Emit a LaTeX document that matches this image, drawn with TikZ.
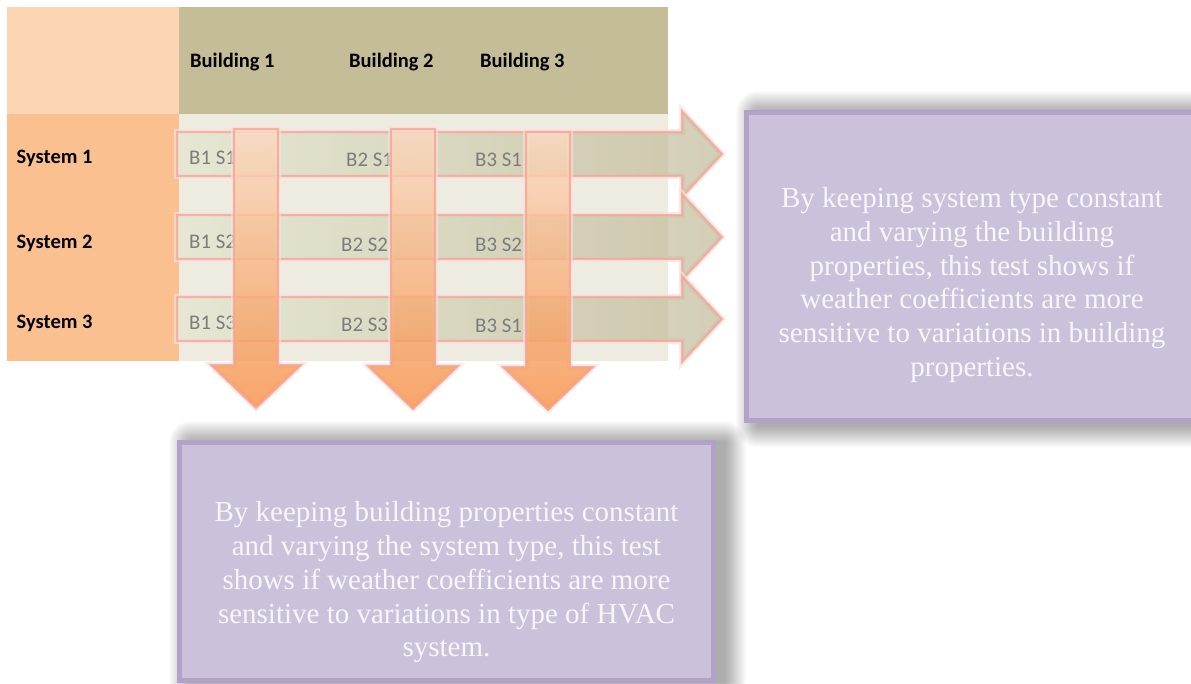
\documentclass[tikz,border=0pt]{standalone}
\usepackage{fontspec}
\setmainfont{Liberation Serif}
\newfontfamily\calibri{Carlito}

\definecolor{cornerpeach}{HTML}{FCD5B5}
\definecolor{headtan}{HTML}{C4BD97}
\definecolor{rowpeach}{HTML}{FAC090}
\definecolor{bodycream}{HTML}{EEECE1}
\definecolor{celltext}{HTML}{7C7C7C}
\definecolor{bandleft}{HTML}{E0E5CB}
\definecolor{bandright}{HTML}{B7AE88}
\definecolor{droptop}{HTML}{FCDAC2}
\definecolor{dropbottom}{HTML}{F68C3F}
\definecolor{arrowedge}{HTML}{F0A598}
\definecolor{arrowhalo}{HTML}{FCE2DD}
\definecolor{boxfill}{HTML}{CCC1DA}
\definecolor{boxedge}{HTML}{B3A2C7}
\definecolor{boxtext}{HTML}{F8F6FA}

\tikzset{
  tablecell/.style={draw=none, inner sep=0pt, outer sep=0pt},
  headlabel/.style={inner sep=0pt, anchor=base west, font=\calibri\bfseries\fontsize{20.5}{24}\selectfont, text=black},
  celllabel/.style={inner sep=0pt, anchor=base west, font=\calibri\fontsize{20.8}{24}\selectfont, text=celltext},
  rowarrow/.style={left color=bandleft, right color=bandright, fill opacity=0.6,
    draw=arrowedge, draw opacity=0.75, line width=2.2pt, line join=miter,
    preaction={draw=arrowhalo, draw opacity=0.7, line width=6pt}},
  colarrow/.style={top color=droptop, bottom color=dropbottom, fill opacity=0.78,
    draw=arrowedge, draw opacity=0.8, line width=2.2pt, line join=miter,
    preaction={draw=arrowhalo, draw opacity=0.6, line width=6pt}},
  infobox/.style={draw=boxedge, fill=boxfill, line width=5pt, inner sep=0pt, outer sep=0pt},
  softshadow/.style={fill=black, fill opacity=0.017},
  infotext/.style={inner sep=0pt, align=center, text=boxtext, font=\fontsize{29}{33.8}\selectfont}
}

\begin{document}
\begin{tikzpicture}[x=1pt, y=-1pt]
  \useasboundingbox (0,0) rectangle (1191,683);
  \fill[white] (0,0) rectangle (1191,683);

  % table blocks
  \node[tablecell, fill=cornerpeach, minimum width=172pt, minimum height=107pt] (corner) at (93,60.5) {};
  \node[tablecell, fill=headtan, minimum width=489pt, minimum height=107pt] (header) at (423.5,60.5) {};
  \node[tablecell, fill=rowpeach, minimum width=172pt, minimum height=247pt] (rowhead) at (93,237.5) {};
  \node[tablecell, fill=bodycream, minimum width=489pt, minimum height=247pt] (body) at (423.5,237.5) {};

  % column and row headings
  \node[headlabel] (b1) at (190,67) {Building 1};
  \node[headlabel] (b2) at (349,67) {Building 2};
  \node[headlabel] (b3) at (480,67) {Building 3};
  \node[headlabel] (s1) at (16.5,163) {System 1};
  \node[headlabel] (s2) at (16.5,248) {System 2};
  \node[headlabel] (s3) at (16.5,328) {System 3};

  % block arrows along the rows (one system, all buildings)
  \foreach \c in {154,237,319} {
    \path[rowarrow] (177,\c-22) -- (682,\c-22) -- (682,\c-43) -- (722,\c)
      -- (682,\c+43) -- (682,\c+22) -- (177,\c+22) -- cycle;
  }

  % cell entries
  \node[celllabel] (c11) at (189,164) {B1 S1};
  \node[celllabel] (c21) at (346,166) {B2 S1};
  \node[celllabel] (c31) at (475,166) {B3 S1};
  \node[celllabel] (c12) at (189,248) {B1 S2};
  \node[celllabel] (c22) at (341,251) {B2 S2};
  \node[celllabel] (c32) at (475,251) {B3 S2};
  \node[celllabel] (c13) at (189,329) {B1 S3};
  \node[celllabel] (c23) at (341,331) {B2 S3};
  \node[celllabel] (c33) at (475,332) {B3 S1};

  % block arrows down the columns (one building, all systems)
  \foreach \x/\t/\b in {256/129/365, 413/129/366, 548/132/367} {
    \path[colarrow] (\x-22,\t) -- (\x+22,\t) -- (\x+22,\b) -- (\x+45,\b) -- (\x,\b+43)
      -- (\x-45,\b) -- (\x-22,\b) -- cycle;
  }

  % soft shadows behind the explanation boxes, cast up and to the right
  \foreach \k in {1,...,22} {
    \fill[softshadow, rounded corners=\k pt] (758-\k,113-\k) rectangle (1205+\k,425+\k);
    \fill[softshadow, rounded corners=\k pt] (191-\k,443-\k) rectangle (724+\k,700);
  }

  % explanation boxes
  \node[infobox, minimum width=450pt, minimum height=308pt] (rowbox) at (971.75,266.5) {};
  \node[infotext] (rowtext) at (972,285) {By keeping system type constant\\and varying the building\\properties, this test shows if\\weather coefficients are more\\sensitive to variations in building\\properties.};

  \node[infobox, minimum width=534pt, minimum height=238pt] (colbox) at (446.5,561.5) {};
  \node[infotext] (coltext) at (446.5,582.4) {By keeping building properties constant\\and varying the system type, this test\\shows if weather coefficients are more\\sensitive to variations in type of HVAC\\system.};
\end{tikzpicture}
\end{document}
